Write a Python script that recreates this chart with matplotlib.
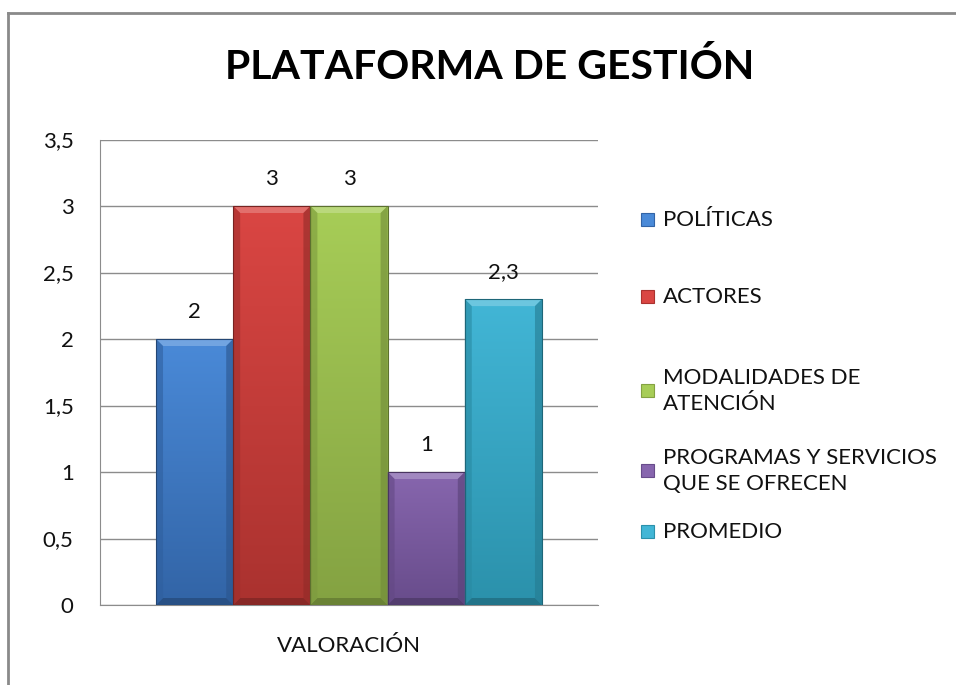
import numpy as np
import matplotlib.pyplot as plt
from matplotlib.patches import Rectangle, Polygon
from matplotlib.lines import Line2D
from matplotlib.colors import to_rgb
from matplotlib.ticker import FuncFormatter

plt.rcParams["font.family"] = ["Lato", "DejaVu Sans"]

# data
series = ["POLÍTICAS", "ACTORES", "MODALIDADES DE\nATENCIÓN",
          "PROGRAMAS Y SERVICIOS\nQUE SE OFRECEN", "PROMEDIO"]
values = [2, 3, 3, 1, 2.3]
value_labels = ["2", "3", "3", "1", "2,3"]
category = "VALORACIÓN"
title = "PLATAFORMA DE GESTIÓN"

# light (top) and dark (bottom) shade for each bar
tops = ["#4A8AD8", "#DA4643", "#A7CD57", "#8766AE", "#42B6D6"]
bottoms = ["#3264A6", "#AA322F", "#84A242", "#684C8B", "#2B91AB"]

W, H = 956, 685
fig = plt.figure(figsize=(W / 100, H / 100), dpi=100)
ax = fig.add_axes([100 / W, 80 / H, 498 / W, 465.5 / H])

n = len(values)
bw = 0.155
xs = (np.arange(n) - (n - 1) / 2) * bw


def mix(c, k):
    c = np.array(to_rgb(c))
    if k > 0:
        return tuple(c + (1 - c) * k)
    return tuple(c * (1 + k))


bevel_x = 7 / 498
bevel_y = 7 / 133

for i, (x, v) in enumerate(zip(xs, values)):
    x0, x1 = x - bw / 2, x + bw / 2
    bar = Rectangle((x0, 0), bw, v, facecolor="none", edgecolor="none")
    ax.add_patch(bar)
    # vertical gradient
    t = np.array(to_rgb(tops[i]))
    b = np.array(to_rgb(bottoms[i]))
    f = np.linspace(0, 1, 256)[:, None]
    grad = (b * (1 - f) + t * f)[:, None, :].repeat(2, axis=1)
    im = ax.imshow(grad, extent=[x0, x1, 0, v], origin="lower",
                   aspect="auto", zorder=2, interpolation="bilinear")
    im.set_clip_path(bar)
    # bevel: top light, sides and bottom darker
    ax.add_patch(Polygon([[x0, v], [x1, v], [x1 - bevel_x, v - bevel_y],
                          [x0 + bevel_x, v - bevel_y]],
                         facecolor=mix(tops[i], 0.22), edgecolor="none", zorder=3))
    ax.add_patch(Polygon([[x0, 0], [x1, 0], [x1 - bevel_x, bevel_y],
                          [x0 + bevel_x, bevel_y]],
                         facecolor=mix(bottoms[i], -0.2), edgecolor="none", zorder=3))
    ax.add_patch(Polygon([[x0, 0], [x0, v], [x0 + bevel_x, v - bevel_y],
                          [x0 + bevel_x, bevel_y]],
                         facecolor=mix(bottoms[i], -0.05), edgecolor="none",
                         alpha=0.6, zorder=3))
    ax.add_patch(Polygon([[x1, 0], [x1, v], [x1 - bevel_x, v - bevel_y],
                          [x1 - bevel_x, bevel_y]],
                         facecolor=mix(bottoms[i], -0.15), edgecolor="none",
                         alpha=0.6, zorder=3))
    ax.add_patch(Rectangle((x0, 0), bw, v, facecolor="none",
                           edgecolor=mix(bottoms[i], -0.3), linewidth=0.8, zorder=4))
    ax.annotate(value_labels[i], (x, v), xytext=(0, 12), textcoords="offset points",
                ha="center", va="bottom", fontsize=16, color="#111111")

ax.set_xlim(-0.5, 0.5)
ax.set_ylim(0, 3.5)
ax.set_yticks(np.arange(0, 3.51, 0.5))
ax.yaxis.set_major_formatter(FuncFormatter(lambda y, _: f"{y:g}".replace(".", ",")))
ax.set_xticks([0])
ax.set_xticklabels([category])
ax.tick_params(axis="y", length=0, pad=19, labelsize=16, labelcolor="#111111")
ax.tick_params(axis="x", length=0, pad=22, labelsize=16, labelcolor="#111111")
ax.grid(axis="y", color="#8C8C8C", linewidth=1)
ax.set_axisbelow(True)
for s in ["top", "right"]:
    ax.spines[s].set_visible(False)
ax.spines["left"].set_color("#8C8C8C")
ax.spines["bottom"].set_color("#8C8C8C")

fig.text(490 / W, 1 - 67 / H, title, ha="center", va="center",
         fontsize=29.5, fontweight="bold", color="#000000")

# legend drawn by hand to match the spacing
leg_y = [220, 297, 391, 471, 532]
for i, (lab, yy) in enumerate(zip(series, leg_y)):
    fig.patches.append(Rectangle((641 / W, 1 - (yy + 6) / H), 13 / W, 13 / H,
                                 facecolor=tops[i], edgecolor=bottoms[i],
                                 linewidth=0.8, transform=fig.transFigure))
    fig.text(663 / W, 1 - yy / H, lab, ha="left", va="center", fontsize=16,
             color="#111111", linespacing=1.4)

# outer frame (only top and left edges are visible)
fig.add_artist(Line2D([8 / W, 1], [1 - 12.5 / H] * 2, color="#8A8A8A", linewidth=2,
                      transform=fig.transFigure))
fig.add_artist(Line2D([8 / W] * 2, [0, 1 - 12.5 / H], color="#8A8A8A", linewidth=2,
                      transform=fig.transFigure))

fig.savefig("out.png", dpi=100)
